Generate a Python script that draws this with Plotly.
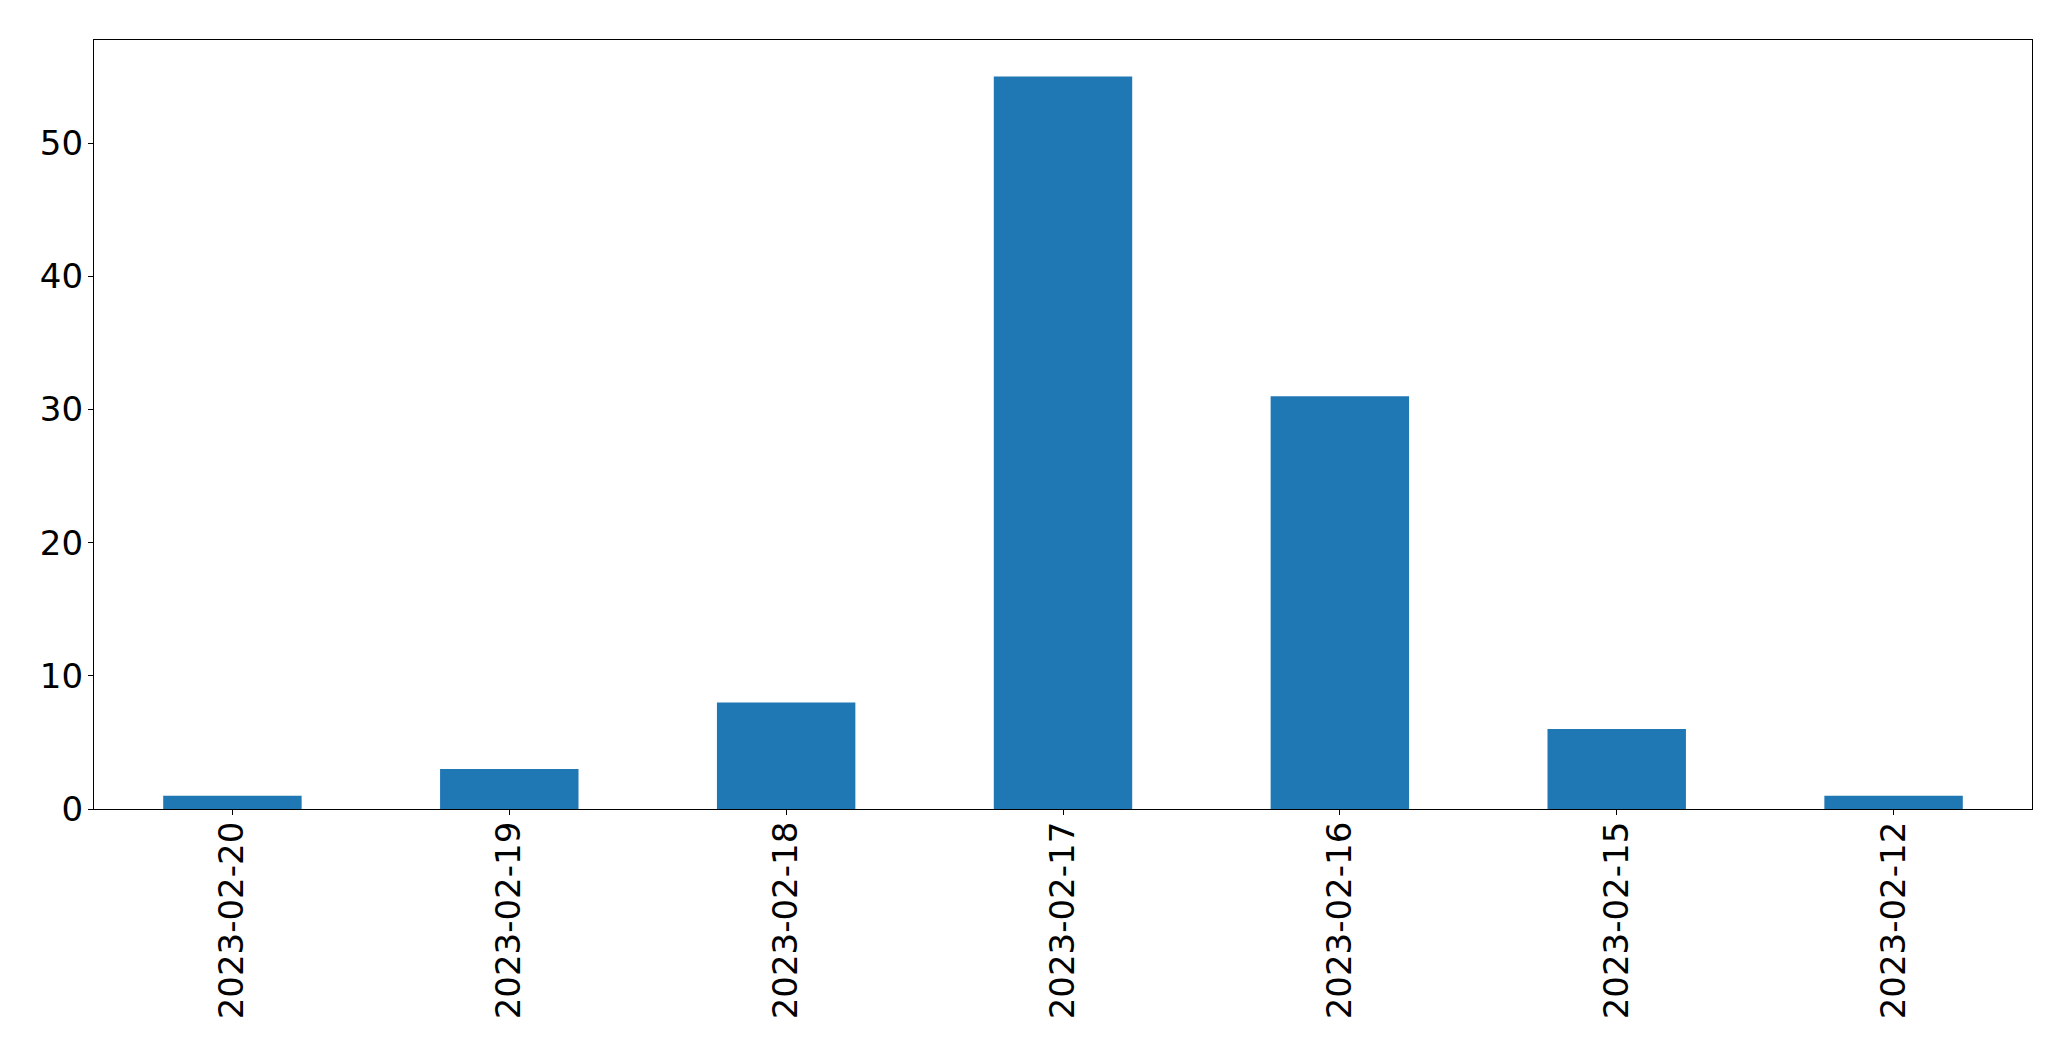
import plotly.graph_objects as go

dates = ["2023-02-20", "2023-02-19", "2023-02-18", "2023-02-17", "2023-02-16", "2023-02-15", "2023-02-12"]
counts = [1, 3, 8, 55, 31, 6, 1]
y_ticks = [0, 10, 20, 30, 40, 50]

fig = go.Figure(go.Bar(x=dates, y=counts, marker=dict(color="#1f77b4", line=dict(width=0)), width=0.5))

axis_common = dict(
    showline=True, linecolor="black", linewidth=1.3, mirror=True,
    ticks="outside", ticklen=5, tickwidth=1.3, tickcolor="black",
    showgrid=False, zeroline=False,
    tickfont=dict(family="DejaVu Sans", size=34, color="black"),
)

fig.update_layout(
    width=2063, height=1053,
    margin=dict(l=86, r=39, t=32, b=252),
    paper_bgcolor="white", plot_bgcolor="white",
    showlegend=False,
)
fig.update_xaxes(type="category", range=[-0.5, 6.5], tickangle=-90, ticklabelstandoff=-7, **axis_common)
fig.update_yaxes(range=[0, 57.75], tickvals=y_ticks, ticklabelstandoff=-2, **axis_common)

fig.write_html("out.html")
